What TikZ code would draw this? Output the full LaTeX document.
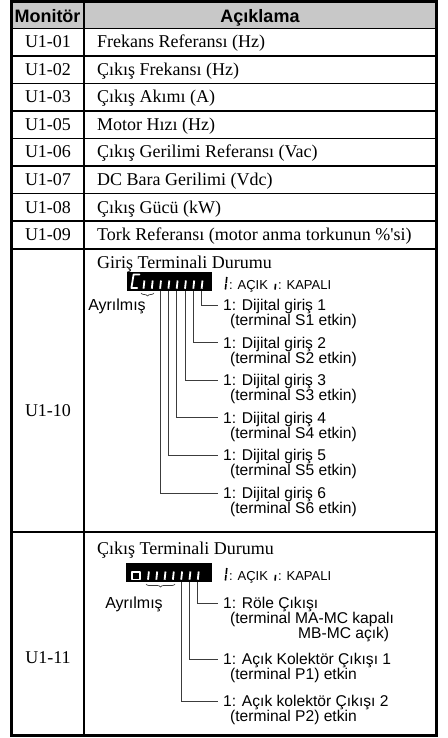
\documentclass[tikz,border=0pt]{standalone}
\usepackage{fontspec}
\setmainfont{Liberation Serif}
\newfontfamily\arial{Liberation Sans}
\usetikzlibrary{decorations.pathreplacing}
\definecolor{hdrgray}{RGB}{200,200,200}
\definecolor{conn}{RGB}{60,60,60}
\begin{document}
\begin{tikzpicture}[x=1pt,y=-1pt,
  body/.style={font=\fontsize{18}{20}\selectfont, inner sep=0pt, anchor=base west},
  bodyc/.style={font=\fontsize{18}{20}\selectfont, inner sep=0pt, anchor=base},
  hdr/.style={font=\arial\bfseries\fontsize{18}{20}\selectfont, inner sep=0pt, anchor=base},
  lbl/.style={font={\arial\fontsize{15.6}{15}\selectfont\lineskiplimit=-20pt}, inner sep=0pt, anchor=north west, align=left},
  rsv/.style={font=\arial\fontsize{16}{18}\selectfont, inner sep=0pt, anchor=base},
  leg/.style={font=\arial\fontsize{13}{15}\selectfont, inner sep=0pt, anchor=base west},
  outer/.style={line width=3pt},
  inner/.style={line width=1.8pt},
  seg/.style={white, line width=1.8pt},
  legseg/.style={black, line width=1.6pt},
  wire/.style={conn, line width=0.8pt},
  brc/.style={decorate, decoration={brace, mirror, amplitude=3pt}, line width=0.7pt, conn}
]
\useasboundingbox (0,0) rectangle (447,738);
% header background
\fill[hdrgray] (11,1.5) rectangle (436,28.5);
% grid
\foreach \yy in {28.5,56,83.5,111,138.5,166,193.5,221,249,532}
  \draw[inner] (11,\yy) -- (436,\yy);
\draw[inner] (84,1.5) -- (84,735.5);
\draw[outer] (11,1.5) rectangle (436,735.5);
% header text
\node[hdr] (h1) at (47.5,23) {Monitör};
\node[hdr] (h2) at (260,23) {Açıklama};
% simple rows
\node[bodyc] (m1) at (48,48) {U1-01}; \node[body] (d1) at (97,48) {Frekans Referansı (Hz)};
\node[bodyc] (m2) at (48,75.5) {U1-02}; \node[body] (d2) at (97,75.5) {Çıkış Frekansı (Hz)};
\node[bodyc] (m3) at (48,103) {U1-03}; \node[body] (d3) at (97,103) {Çıkış Akımı (A)};
\node[bodyc] (m4) at (48,130.5) {U1-05}; \node[body] (d4) at (97,130.5) {Motor Hızı (Hz)};
\node[bodyc] (m5) at (48,158) {U1-06}; \node[body] (d5) at (97,158) {Çıkış Gerilimi Referansı (Vac)};
\node[bodyc] (m6) at (48,185.5) {U1-07}; \node[body] (d6) at (97,185.5) {DC Bara Gerilimi (Vdc)};
\node[bodyc] (m7) at (48,213) {U1-08}; \node[body] (d7) at (97,213) {Çıkış Gücü (kW)};
\node[bodyc] (m8) at (48,240.5) {U1-09}; \node[body] (d8) at (97,240.5) {Tork Referansı (motor anma torkunun \%\textquotesingle si)};
% ---------- U1-10 ----------
\node[bodyc] (m9) at (48,416) {U1-10};
\node[body] (t9) at (97,268) {Giriş Terminali Durumu};
\fill[black] (127,272) rectangle (212,291);
% C character
\draw[seg, line cap=round, line join=round] (139.5,274.5) -- (133.6,274.5) -- (131.4,288) -- (137.3,288);
% strokes
\foreach \i/\xx in {1/143.5,2/151.8,3/160.1,4/168.4,5/176.7,6/185,7/193.3,8/201.6}{
  \draw[seg] (\xx+0.9,280.5) -- (\xx,288.7);
  \coordinate (a\i) at (\xx,291);
}
\draw[brc] (141,293) -- (154,293);
\node[rsv] (r1) at (117,310) {Ayrılmış};
% legend
\draw[legseg] (226.8,277) -- (226.2,282.8) (226,283.8) -- (225.4,289.5);
\node[leg] (lg1) at (229,289) {: AÇIK};
\draw[legseg] (275.6,283.8) -- (275,289.5);
\node[leg] (lg2) at (278,289) {: KAPALI};
% labels
\foreach \i/\cy in {1/305,2/342.6,3/380.2,4/417.8,5/455.4,6/493}{
  \node[lbl] (in\i) at (223,\cy-6) {1: Dijital giriş \i\\\hspace*{7pt}(terminal S\i\ etkin)};
}
\draw[wire] (a8) |- ([xshift=-5pt,yshift=-6pt]in1.north west);
\draw[wire] (a7) |- ([xshift=-5pt,yshift=-6pt]in2.north west);
\draw[wire] (a6) |- ([xshift=-5pt,yshift=-6pt]in3.north west);
\draw[wire] (a5) |- ([xshift=-5pt,yshift=-6pt]in4.north west);
\draw[wire] (a4) |- ([xshift=-5pt,yshift=-6pt]in5.north west);
\draw[wire] (a3) |- ([xshift=-5pt,yshift=-6pt]in6.north west);
% ---------- U1-11 ----------
\node[bodyc] (m10) at (48,663) {U1-11};
\node[body] (t10) at (97,554) {Çıkış Terminali Durumu};
\fill[black] (126,563) rectangle (212,582);
% o character
\draw[seg, line join=round] (131.8,572) rectangle (140,579.5);
\foreach \i/\xx in {1/148,2/156.3,3/164.6,4/172.9,5/181.2,6/189.5,7/197.8}{
  \draw[seg] (\xx+0.9,571.5) -- (\xx,579.7);
  \coordinate (b\i) at (\xx,582);
}
\draw[brc] (146,584) -- (175,584);
\node[rsv] (r2) at (134,608) {Ayrılmış};
\draw[legseg] (226.8,568) -- (226.2,573.8) (226,574.8) -- (225.4,580.5);
\node[leg] (lg3) at (229,580) {: AÇIK};
\draw[legseg] (275.6,574.8) -- (275,580.5);
\node[leg] (lg4) at (278,580) {: KAPALI};
\node[lbl] (o1) at (223,597) {1: Röle Çıkışı\\\hspace*{7pt}(terminal MA-MC kapalı\\\hspace*{75pt}MB-MC açık)};
\node[lbl] (o2) at (223,653) {1: Açık Kolektör Çıkışı 1\\\hspace*{7pt}(terminal P1) etkin};
\node[lbl] (o3) at (223,695) {1: Açık kolektör Çıkışı 2\\\hspace*{7pt}(terminal P2) etkin};
\draw[wire] (b7) |- ([xshift=-5pt,yshift=-6pt]o1.north west);
\draw[wire] (b6) |- ([xshift=-5pt,yshift=-6pt]o2.north west);
\draw[wire] (b5) |- ([xshift=-5pt,yshift=-6pt]o3.north west);
\end{tikzpicture}
\end{document}
